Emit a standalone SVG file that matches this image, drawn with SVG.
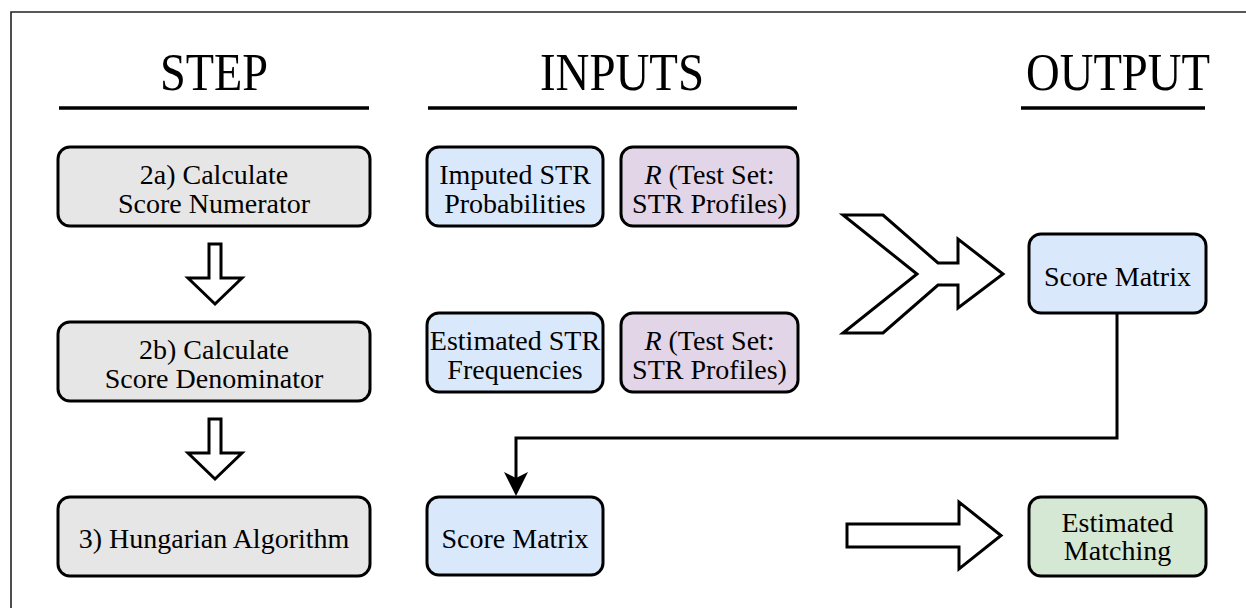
<svg xmlns="http://www.w3.org/2000/svg" width="1246" height="608" viewBox="0 0 1246 608">
  <style>
    text { font-family: "Liberation Serif", "Times New Roman", serif; fill: #000; }
    .title { font-size: 52px; text-anchor: middle; }
    .lbl { font-size: 28px; text-anchor: middle; }
    .rule { stroke: #000; stroke-width: 3.5; }
    .box { stroke: #000; stroke-width: 3; }
    .step { fill: #e6e6e6; }
    .blue { fill: #dae8fc; }
    .purple { fill: #e1d5e7; }
    .green { fill: #d5e8d4; }
    .block { fill: #fff; stroke: #000; stroke-width: 3; stroke-linejoin: miter; }
    .wire { fill: none; stroke: #000; stroke-width: 3; }
  </style>

  <rect width="1246" height="608" fill="#fff"/>
  <!-- frame: top and left edges only -->
  <path d="M11,608 V12 H1246" fill="none" stroke="#222" stroke-width="1.6"/>

  <!-- column headings -->
  <g id="headings">
    <text class="title" x="214" y="90" textLength="108" lengthAdjust="spacingAndGlyphs">STEP</text>
    <line class="rule" x1="59" y1="108" x2="369" y2="108"/>
    <text class="title" x="622" y="90" textLength="164" lengthAdjust="spacingAndGlyphs">INPUTS</text>
    <line class="rule" x1="428" y1="108" x2="797" y2="108"/>
    <text class="title" x="1118" y="90" textLength="184" lengthAdjust="spacingAndGlyphs">OUTPUT</text>
    <line class="rule" x1="1021" y1="108" x2="1205" y2="108"/>
  </g>

  <!-- step column -->
  <g id="step-2a">
    <rect class="box step" x="58" y="147" width="312" height="79" rx="12"/>
    <text class="lbl" x="214" y="184">2a) Calculate</text>
    <text class="lbl" x="214" y="213">Score Numerator</text>
  </g>
  <g id="step-2b">
    <rect class="box step" x="58" y="322" width="312" height="79" rx="12"/>
    <text class="lbl" x="214" y="359">2b) Calculate</text>
    <text class="lbl" x="214" y="388">Score Denominator</text>
  </g>
  <g id="step-3">
    <rect class="box step" x="58" y="497" width="312" height="79" rx="12"/>
    <text class="lbl" x="214" y="548">3) Hungarian Algorithm</text>
  </g>

  <!-- input column -->
  <g id="in-imputed">
    <rect class="box blue" x="427" y="147" width="176" height="79" rx="12"/>
    <text class="lbl" x="515" y="184">Imputed STR</text>
    <text class="lbl" x="515" y="213">Probabilities</text>
  </g>
  <g id="in-r1">
    <rect class="box purple" x="621" y="147" width="177" height="79" rx="12"/>
    <text class="lbl" x="709.5" y="184"><tspan font-style="italic">R</tspan> (Test Set:</text>
    <text class="lbl" x="709.5" y="213">STR Profiles)</text>
  </g>
  <g id="in-estimated">
    <rect class="box blue" x="427" y="313" width="176" height="79" rx="12"/>
    <text class="lbl" x="515" y="350">Estimated STR</text>
    <text class="lbl" x="515" y="379">Frequencies</text>
  </g>
  <g id="in-r2">
    <rect class="box purple" x="621" y="313" width="177" height="79" rx="12"/>
    <text class="lbl" x="709.5" y="350"><tspan font-style="italic">R</tspan> (Test Set:</text>
    <text class="lbl" x="709.5" y="379">STR Profiles)</text>
  </g>
  <g id="in-score">
    <rect class="box blue" x="427" y="497" width="176" height="78" rx="12"/>
    <text class="lbl" x="515" y="548">Score Matrix</text>
  </g>

  <!-- output column -->
  <g id="out-score">
    <rect class="box blue" x="1029" y="234" width="177" height="79" rx="12"/>
    <text class="lbl" x="1117.5" y="286">Score Matrix</text>
  </g>
  <g id="out-matching">
    <rect class="box green" x="1029" y="497" width="177" height="79" rx="12"/>
    <text class="lbl" x="1117.5" y="532">Estimated</text>
    <text class="lbl" x="1117.5" y="560">Matching</text>
  </g>

  <!-- connectors -->
  <g id="connectors">
    <!-- block arrows between steps -->
    <path class="block" d="M209,244 H221 V278 H242 L215,304 L188,278 H209 Z"/>
    <path class="block" d="M209,419 H221 V453 H242 L215,479 L188,453 H209 Z"/>
    <!-- merging arrow into the score matrix -->
    <path class="block" d="M843,215 H883 L938,263 H958 V239 L1003,274 L958,308 V285 H938 L883,333 H843 L917,274 Z"/>
    <!-- arrow to the estimated matching -->
    <path class="block" d="M847,524 H959 V502 L1001,535.5 L959,569 V547 H847 Z"/>
    <!-- score matrix fed back as input -->
    <path class="wire" d="M1117,313 V438 H516 V478"/>
    <path d="M516,496 L504,472 L516,478 L528,472 Z" fill="#000"/>
  </g>
</svg>
